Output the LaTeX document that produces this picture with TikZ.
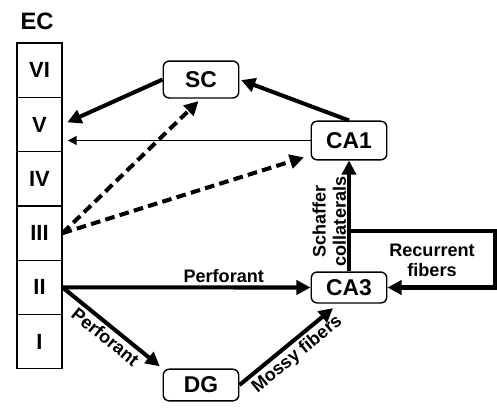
\documentclass[tikz,border=0pt]{standalone}
\usepackage{fontspec}
\setmainfont{Liberation Sans}
\usetikzlibrary{arrows.meta,calc}

\def\px{0.02}

\tikzset{
  layer/.style={draw, line width=0.75pt, minimum width=25.5pt, minimum height=30.8pt, inner sep=0pt, font=\fontsize{12.5}{14}\selectfont\bfseries},
  region/.style={draw, rounded corners=3.4pt, line width=0.8pt, minimum width=43pt, inner sep=0pt, font=\fontsize{13}{15}\selectfont\bfseries},
  fiber/.style={line width=2.3pt, -{Triangle[length=8pt,width=8pt]}},
  thinfiber/.style={line width=0.85pt, -{Triangle[length=5pt,width=5pt]}},
  dashfiber/.style={fiber, dash pattern=on 5.5pt off 3pt},
  lbl/.style={font=\fontsize{10.3}{11.5}\selectfont\bfseries, inner sep=1.5pt},
}

\begin{document}
\begin{tikzpicture}[x=\px cm, y=-\px cm]
      \useasboundingbox (0,0) rectangle (497,407);
      % entorhinal cortex column
      \node[font=\fontsize{13.5}{15}\selectfont\bfseries] (ec) at (37,21) {EC};
      \node[layer] (l6) at (39.5,70.2) {VI};
      \node[layer] (l5) at (39.5,124.5) {V};
      \node[layer] (l4) at (39.5,178.8) {IV};
      \node[layer] (l3) at (39.5,233.1) {III};
      \node[layer] (l2) at (39.5,287.4) {II};
      \node[layer] (l1) at (39.5,341.7) {I};
      % hippocampal regions
      \node[region, minimum height=21pt] (sc) at (201,79.5) {SC};
      \node[region, minimum height=22pt] (ca1) at (349,140.5) {CA1};
      \node[region, minimum height=17.6pt] (ca3) at (349,287.5) {CA3};
      \node[region, minimum height=18pt] (dg) at (201,385) {DG};
      \coordinate (rturn) at (495,231);
      % connections
      \draw[fiber, shorten >=3pt] (sc.west) -- (l5.east);
      \draw[fiber, shorten >=1pt] (ca1.north) -- (sc.east);
      \draw[thinfiber, shorten >=3pt] (ca1.west) -- (l5.east |- ca1.west);
      \draw[dashfiber, shorten >=2pt] (l3.east) -- (sc.south);
      \draw[dashfiber, shorten >=4pt] (l3.east) -- ([yshift=3pt]ca1.south west);
      \draw[fiber] (l2.east) -- (ca3.west) node[lbl, above, pos=0.65] {Perforant};
      \draw[fiber, shorten >=2pt] (l2.east) -- (dg.north west) node[lbl, sloped, below, midway] {Perforant};
      \draw[fiber, shorten >=4pt] (dg.east) -- ([xshift=-6pt]ca3.south) node[lbl, sloped, below, midway] {Mossy fibers};
      \draw[fiber] (ca3.north) -- (ca1.south) node[lbl, sloped, above, pos=0.45, align=center, inner sep=0.6pt] {Schaffer\\collaterals};
      \draw[fiber] (ca3.north |- rturn) -- (rturn) -- (rturn |- ca3.east) -- (ca3.east);
      \node[lbl, align=center] (rlabel) at (432,260) {Recurrent\\fibers};
    \end{tikzpicture}
\end{document}
